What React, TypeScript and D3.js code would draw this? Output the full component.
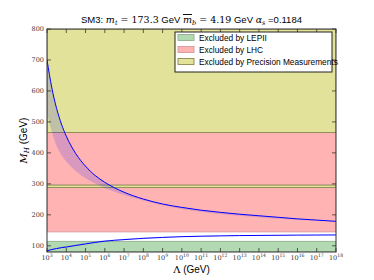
import React from 'react'
import * as d3 from 'd3'

const width = 374
const height = 280
const margin = { top: 29, right: 38, bottom: 28, left: 47 }

// log10 of Lambda (GeV)
const lambdaExp = [3, 3.25, 3.5, 3.75, 4, 4.5, 5, 5.5, 6, 7, 8, 9, 10, 11, 12, 13, 14, 15, 16, 17, 18]
// upper bound curve and lower edge of its band (GeV)
const upperCurve = [700, 610, 543, 493, 454, 397, 357, 327, 305, 273, 251, 235, 224, 215, 208, 202, 197, 192, 187, 183, 179]
const upperBandLow = [530, 468, 422, 393, 372, 341, 318, 301, 287, 264, 246, 231, 219, 210, 203, 197, 192, 187.5, 184, 181, 179]
// lower (stability) curve and upper edge of its band
const lowerCurve = [84, 88, 91, 94, 96, 101, 106, 111, 115, 120, 124, 127, 129.5, 131, 132, 133, 133.5, 134, 134.5, 134.8, 135]
const lowerBandHigh = [86, 90, 94, 97, 99, 104, 109, 114, 118, 123, 126.5, 129, 131, 132.5, 133.3, 134, 134.3, 134.6, 134.8, 135, 135]

// excluded regions [from, to] in GeV
const lepRegion = [80, 114.4]
const lhcRegions = [[145, 288], [296, 466]]
const precisionRegions = [[288, 296], [466, 800]]

const yTicks = [100, 200, 300, 400, 500, 600, 700, 800]
const xTickExps = d3.range(3, 19)

const legendItems = [
  { label: 'Excluded by LEPII', fill: '#b3d9b3', stroke: '#8fb08f' },
  { label: 'Excluded by LHC', fill: '#ffb3b3', stroke: '#d49a9a' },
  { label: 'Excluded by Precision Measurements', fill: '#e2e29a', stroke: '#8a8a50' }
]

const serif = '"DejaVu Serif", "Liberation Serif", serif'
const sans = '"Liberation Sans", Arial, sans-serif'

export default function App() {
  const x = d3.scaleLog().domain([1e3, 1e18]).range([margin.left, width - margin.right])
  const y = d3.scaleLinear().domain([80, 800]).range([height - margin.bottom, margin.top])
  const x0 = x.range()[0], x1 = x.range()[1]
  const yb = y.range()[0], yt = y.range()[1]

  const pts = lambdaExp.map((e, i) => ({
    lam: Math.pow(10, e), up: upperCurve[i], upLow: upperBandLow[i],
    lo: lowerCurve[i], loHigh: lowerBandHigh[i]
  }))

  const upperBand = d3.area<any>().x(d => x(d.lam)).y0(d => y(d.upLow)).y1(d => y(d.up)).curve(d3.curveMonotoneX)
  const lowerBand = d3.area<any>().x(d => x(d.lam)).y0(d => y(d.lo)).y1(d => y(d.loHigh)).curve(d3.curveMonotoneX)
  const upperLine = d3.line<any>().x(d => x(d.lam)).y(d => y(d.up)).curve(d3.curveMonotoneX)
  const lowerLine = d3.line<any>().x(d => x(d.lam)).y(d => y(d.lo)).curve(d3.curveMonotoneX)

  const band = (r: number[], fill: string, stroke: string, key: string) => (
    <rect key={key} x={x0} width={x1 - x0} y={y(r[1])} height={y(r[0]) - y(r[1])}
      fill={fill} stroke={stroke} strokeWidth={0.9} />
  )

  return (
    <svg width={width} height={height} style={{ position: 'absolute', left: 0, top: 0, background: '#fff' }}>
      <defs>
        <clipPath id="plot">
          <rect x={x0} y={yt} width={x1 - x0} height={yb - yt} />
        </clipPath>
      </defs>
      <g clipPath="url(#plot)">
        {band(lepRegion, legendItems[0].fill, legendItems[0].stroke, 'lep')}
        {lhcRegions.map((r, i) => band(r, legendItems[1].fill, legendItems[1].stroke, 'lhc' + i))}
        {precisionRegions.map((r, i) => band(r, legendItems[2].fill, legendItems[2].stroke, 'pm' + i))}
        <path d={upperBand(pts) as string} fill="#0000ff" fillOpacity={0.15} />
        <path d={lowerBand(pts) as string} fill="#0000ff" fillOpacity={0.15} />
        <path d={upperLine(pts) as string} fill="none" stroke="#0000ff" strokeWidth={1} />
        <path d={lowerLine(pts) as string} fill="none" stroke="#0000ff" strokeWidth={1} />
      </g>

      {/* ticks on all four sides, pointing in */}
      <g stroke="#000" strokeWidth={0.6}>
        {xTickExps.map(e => {
          const px = x(Math.pow(10, e))
          return (
            <g key={e}>
              <line x1={px} x2={px} y1={yb} y2={yb - 4} />
              <line x1={px} x2={px} y1={yt} y2={yt + 4} />
            </g>
          )
        })}
        {yTicks.map(v => (
          <g key={v}>
            <line x1={x0} x2={x0 + 4} y1={y(v)} y2={y(v)} />
            <line x1={x1} x2={x1 - 4} y1={y(v)} y2={y(v)} />
          </g>
        ))}
      </g>
      <rect x={x0} y={yt} width={x1 - x0} height={yb - yt} fill="none" stroke="#333" strokeWidth={1} />

      {/* tick labels */}
      <g fontFamily={serif} fontSize={6.5} fill="#333">
        {yTicks.map(v => (
          <text key={v} x={x0 - 3} y={y(v) + 2.4} textAnchor="end">{v}</text>
        ))}
        {xTickExps.map(e => (
          <text key={e} x={x(Math.pow(10, e))} y={260} textAnchor="middle">
            10<tspan fontSize={4.6} dy={-2.8}>{e}</tspan>
          </text>
        ))}
      </g>

      {/* axis labels */}
      <text x={(x0 + x1) / 2} y={273} textAnchor="middle" fontSize={10} fontFamily={sans}>
        <tspan fontFamily={serif}>Λ</tspan> (GeV)
      </text>
      <text transform={`translate(27,${(yt + yb) / 2}) rotate(-90)`} textAnchor="middle" fontSize={10} fontFamily={sans}>
        <tspan fontFamily={serif} fontStyle="italic">M</tspan>
        <tspan fontFamily={serif} fontStyle="italic" fontSize={7} dy={2}>H</tspan>
        <tspan dy={-2}> (GeV)</tspan>
      </text>

      {/* title */}
      <text x={(x0 + x1) / 2} y={23} textAnchor="middle" fontSize={9.5} fontFamily={sans}>
        SM3:{' '}
        <tspan fontFamily={serif} fontStyle="italic">m</tspan>
        <tspan fontFamily={serif} fontStyle="italic" fontSize={6.5} dy={1.5}>t</tspan>
        <tspan fontFamily={serif} dy={-1.5}> = 173.3</tspan> GeV{' '}
        <tspan fontFamily={serif} fontStyle="italic" textDecoration="overline">m</tspan>
        <tspan fontFamily={serif} fontStyle="italic" fontSize={6.5} dy={1.5}>b</tspan>
        <tspan fontFamily={serif} dy={-1.5}> = 4.19</tspan> GeV{'  '}
        <tspan fontFamily={serif} fontStyle="italic">α</tspan>
        <tspan fontFamily={serif} fontStyle="italic" fontSize={6.5} dy={1.5}>s</tspan>
        <tspan dy={-1.5}> =0.1184</tspan>
      </text>

      {/* legend */}
      <g>
        <rect x={175} y={32} width={157} height={40} fill="#fff" stroke="#222" strokeWidth={1} />
        {legendItems.map((d, i) => (
          <g key={d.label} transform={`translate(178,${37.5 + i * 12})`}>
            <rect x={0} y={-3} width={16} height={6} fill={d.fill} stroke={d.stroke} strokeWidth={0.9} />
            <text x={21} y={3} fontSize={8.3} fontFamily={sans}>{d.label}</text>
          </g>
        ))}
      </g>
    </svg>
  )
}
